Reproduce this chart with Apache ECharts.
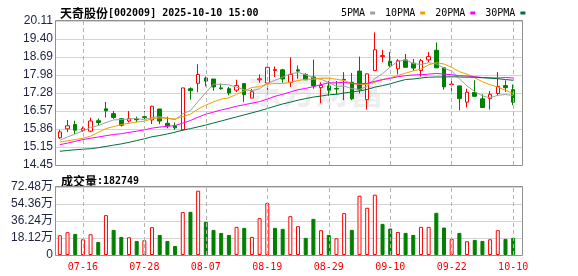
<!DOCTYPE html>
<html><head><meta charset="utf-8">
<script src="https://cdn.jsdelivr.net/npm/echarts@6/dist/echarts.min.js"></script>
<style>html,body{margin:0;padding:0;background:#fff}#c{width:578px;height:276px}</style>
</head><body><div id="c"></div>
<script>
// ---------- DATA ----------
const dates = ['07-11','07-14','07-15','07-16','07-17','07-18','07-21','07-22','07-23','07-24','07-25','07-28','07-29','07-30','07-31',
'08-01','08-04','08-05','08-06','08-07','08-08','08-11','08-12','08-13','08-14','08-15','08-18','08-19','08-20','08-21','08-22','08-25','08-26','08-27','08-28','08-29',
'09-01','09-02','09-03','09-04','09-05','09-08','09-09','09-10','09-11','09-12','09-15','09-16','09-17','09-18','09-19','09-22','09-23','09-24','09-25','09-26','09-29','09-30',
'10-09','10-10'];
const openP  = [15.52,15.87,16.04,15.80,15.78,16.19,16.66,16.47,16.27,16.18,16.26,16.35,16.22,16.65,16.09,15.99,15.83,17.45,17.66,17.87,17.83,17.48,17.45,17.39,17.65,17.08,17.80,17.67,18.16,18.19,17.70,18.19,18.01,17.91,17.49,17.56,17.46,17.81,17.70,18.14,17.02,18.16,18.71,18.53,18.23,18.58,18.45,18.16,18.58,18.96,18.27,17.61,17.56,16.92,17.30,17.05,17.06,17.26,17.57,17.41];
const closeP = [15.75,15.99,15.82,15.88,16.18,16.12,16.58,16.32,16.01,16.27,16.23,16.31,16.76,16.18,15.99,15.91,17.48,17.37,18.01,17.75,17.52,17.45,17.28,17.57,17.22,17.33,17.84,18.29,18.20,17.83,18.01,18.14,17.80,17.56,17.58,17.39,17.44,17.79,17.05,17.41,18.03,18.98,18.75,18.35,18.55,18.29,18.26,18.55,18.71,18.27,17.52,17.63,17.06,17.31,17.15,16.71,17.23,17.54,17.49,16.92];
const lowP   = [15.47,15.74,15.67,15.75,15.74,16.02,16.32,16.26,15.96,16.12,16.13,16.13,16.06,16.06,15.89,15.83,15.80,17.02,17.31,17.54,17.37,17.41,17.19,17.32,16.93,17.08,17.68,17.39,17.91,17.68,17.52,17.84,17.80,17.45,16.87,17.17,17.22,17.00,17.00,17.26,16.63,18.16,18.49,18.29,18.01,18.29,18.16,17.93,18.49,18.27,17.41,17.36,16.60,16.71,17.15,16.71,16.63,17.19,17.32,16.80];
const highP  = [15.83,16.22,16.19,15.96,16.31,16.28,16.93,16.57,16.28,16.57,16.35,16.57,16.78,16.65,16.35,16.12,17.48,17.50,18.41,17.93,17.83,17.65,17.52,17.80,17.67,17.44,18.01,18.42,18.32,18.23,18.68,18.36,18.06,18.59,17.70,17.75,17.75,18.10,18.07,18.71,18.06,19.66,18.98,18.89,18.61,18.81,18.62,18.62,18.89,19.27,18.29,17.88,17.56,17.45,17.78,17.23,17.36,18.10,17.78,17.61];
const ma5  = [15.42,15.55,15.67,15.79,15.92,16.00,16.12,16.22,16.24,16.26,16.28,16.23,16.32,16.35,16.29,16.23,16.46,16.59,16.95,17.30,17.63,17.62,17.60,17.51,17.41,17.37,17.45,17.65,17.78,17.90,18.03,18.09,18.00,17.87,17.82,17.69,17.55,17.55,17.45,17.42,17.54,17.85,18.04,18.30,18.53,18.58,18.44,18.40,18.47,18.42,18.26,18.14,17.84,17.56,17.33,17.17,17.09,17.19,17.22,17.18];
const ma10 = [15.35,15.40,15.45,15.50,15.58,15.73,15.88,15.96,16.04,16.09,16.14,16.17,16.27,16.30,16.28,16.26,16.35,16.45,16.65,16.80,16.93,17.04,17.09,17.23,17.36,17.50,17.53,17.63,17.65,17.65,17.70,17.77,17.82,17.82,17.86,17.86,17.82,17.77,17.66,17.62,17.62,17.70,17.80,17.88,17.97,18.06,18.15,18.22,18.39,18.47,18.42,18.29,18.12,18.02,17.88,17.72,17.61,17.51,17.39,17.26];
const ma20 = [15.25,15.31,15.38,15.45,15.50,15.55,15.60,15.65,15.68,15.73,15.78,15.83,15.90,15.94,15.97,16.00,16.10,16.20,16.33,16.45,16.53,16.61,16.68,16.76,16.82,16.88,16.94,17.04,17.15,17.23,17.32,17.41,17.46,17.53,17.61,17.68,17.68,17.70,17.65,17.64,17.66,17.74,17.81,17.85,17.92,17.96,17.99,18.00,18.02,18.05,18.02,18.00,17.96,17.95,17.92,17.89,17.88,17.87,17.89,17.87];
const ma30 = [14.99,15.02,15.05,15.07,15.09,15.13,15.18,15.23,15.28,15.34,15.41,15.48,15.56,15.61,15.67,15.74,15.82,15.88,15.95,16.02,16.10,16.18,16.26,16.34,16.42,16.50,16.58,16.67,16.76,16.85,16.92,17.00,17.06,17.12,17.16,17.21,17.23,17.28,17.32,17.36,17.42,17.51,17.57,17.64,17.73,17.81,17.83,17.87,17.90,17.91,17.91,17.92,17.91,17.90,17.90,17.88,17.86,17.84,17.81,17.78];
// volume, unit: 万
const volume = [21.07,24.28,22.49,16.78,22.14,13.92,42.49,26.78,19.28,18.92,15.00,15.71,29.63,21.42,15.00,9.64,45.70,46.06,68.55,35.35,26.78,23.56,21.42,29.99,28.92,19.28,39.27,55.34,28.92,27.85,41.41,30.70,18.21,38.56,26.42,21.42,17.85,44.63,26.78,63.19,50.34,64.26,33.20,28.20,24.63,23.56,21.42,29.99,29.99,44.98,29.28,17.14,23.56,14.64,16.07,15.00,16.78,26.42,17.14,18.27];
const priceTicks = ['14.45','15.15','15.86','16.57','17.28','17.98','18.69','19.40','20.11'];
const volTicks = ['0','18.12万','36.24万','54.36万','72.48万'];
const labelDates = ['07-16','07-28','08-07','08-19','08-29','09-10','09-22','10-10'];
const stockName = '天奇股份';
const stockInfo = '[002009] 2025-10-10 15:00';
const volName = '成交量';
const volLast = '182749';
const maNames = ['5PMA','10PMA','20PMA','30PMA'];
const watermark = '东方财富';

// ---------- CHART ----------
const PMIN = 14.45, PMAX = 20.11, PINT = 0.7075;
const VMAX = 72.48, VINT = 18.12;
const RED = '#ff0000', GREEN = '#008000';
const maColors = ['#a0a0a0', '#f0a000', '#ff00ff', '#006f3c'];
const MONO = '"DejaVu Sans Mono", monospace';
const CJK = '"Noto Sans CJK SC", sans-serif';
const SANS = '"Liberation Sans", Arial, "Noto Sans CJK SC", sans-serif';

const chart = echarts.init(document.getElementById('c'), null, {renderer: 'canvas'});
const showIdx = (i, v) => labelDates.indexOf(v) >= 0;

const candleData = dates.map((d, i) => [openP[i], closeP[i], lowP[i], highP[i]]);
const volData = volume.map((v, i) => {
  const up = i === 0 ? closeP[i] >= openP[i] : closeP[i] >= closeP[i - 1];
  return {value: v, itemStyle: up ? {color: '#fff', borderColor: RED, borderWidth: 1} : {color: GREEN, borderColor: GREEN, borderWidth: 1}};
});

// dashed vertical guide lines at the labelled dates (hosted on empty helper series)
const makeGuides = (c) => ({
  silent: true, symbol: ['none', 'none'], label: {show: false}, animation: false,
  lineStyle: {color: c, type: [4, 3], width: 1},
  data: labelDates.map(d => ({xAxis: d}))
});
const emptyData = () => dates.map(() => null);

const option = {
  animation: false,
  backgroundColor: '#fff',
  title: [
    {left: 55, top: 2, text: '{a|' + stockName + '}{b|' + stockInfo + '}',
     textStyle: {rich: {a: {fontFamily: CJK, fontSize: 12, color: '#000'}, b: {fontFamily: MONO, fontSize: 10, color: '#000'}}}},
    {left: 56, top: 170, text: '{a|' + volName + '}{b|:' + volLast + '}',
     textStyle: {rich: {a: {fontFamily: CJK, fontSize: 12, color: '#000'}, b: {fontFamily: MONO, fontSize: 10, color: '#000'}}}}
  ],
  legend: {
    left: 336, top: 3, data: maNames, align: 'right', icon: 'rect', itemWidth: 5, itemHeight: 3, itemGap: 10,
    textStyle: {fontFamily: MONO, fontSize: 10, color: '#000'}, selectedMode: false
  },
  graphic: {elements: [
    {type: 'text', left: 248, top: 74, z: -10, silent: true,
     style: {text: watermark, font: 'bold 34px "Noto Sans CJK SC"', fill: '#eeeeee'}},
    {type: 'rect', shape: {x: 55.5, y: 20.5, width: 467, height: 145}, style: {fill: 'none', stroke: '#909090', lineWidth: 1}, z: 100, silent: true},
    {type: 'rect', shape: {x: 55.5, y: 186.5, width: 467, height: 69}, style: {fill: 'none', stroke: '#909090', lineWidth: 1}, z: 100, silent: true}
  ]},
  grid: [
    {left: 56, top: 21, width: 461, height: 144},
    {left: 56, top: 187, width: 461, height: 68},
    {left: 56, top: 21, width: 466, height: 144},
    {left: 56, top: 187, width: 466, height: 68}
  ],
  xAxis: [
    {type: 'category', gridIndex: 0, data: dates, boundaryGap: true, axisLine: {show: false}, axisTick: {show: false}, axisLabel: {show: false}, splitLine: {show: false}},
    {type: 'category', gridIndex: 1, data: dates, boundaryGap: true, axisLine: {show: false}, axisTick: {show: false},
     axisLabel: {show: true, interval: showIdx, color: RED, fontFamily: MONO, fontSize: 10, margin: 7}, splitLine: {show: false}},
    {type: 'value', gridIndex: 2, show: false},
    {type: 'value', gridIndex: 3, show: false}
  ],
  yAxis: [
    {type: 'value', gridIndex: 0, min: PMIN, max: PMAX, show: false, splitLine: {show: false}},
    {type: 'value', gridIndex: 1, min: 0, max: VMAX, show: false, splitLine: {show: false}},
    {type: 'value', gridIndex: 2, min: PMIN, max: PMAX, interval: PINT, axisLine: {show: false}, axisTick: {show: false},
     axisLabel: {color: '#1c2340', fontFamily: SANS, fontSize: 12, margin: 3,
       formatter: v => priceTicks[Math.round((v - PMIN) / PINT)]},
     splitLine: {lineStyle: {color: '#d4d4d4', width: 1}}},
    {type: 'value', gridIndex: 3, min: 0, max: VMAX, interval: VINT, axisLine: {show: false}, axisTick: {show: false},
     axisLabel: {color: '#1c2340', fontFamily: SANS, fontSize: 12, margin: 3,
       formatter: v => volTicks[Math.round(v / VINT)]},
     splitLine: {lineStyle: {color: '#d4d4d4', width: 1}}}
  ],
  series: [
    {type: 'line', name: 'guide0', xAxisIndex: 0, yAxisIndex: 0, data: emptyData(), symbol: 'none', z: 1, markLine: makeGuides('#b4b4b4')},
    {type: 'line', name: 'guide1', xAxisIndex: 1, yAxisIndex: 1, data: emptyData(), symbol: 'none', z: 1, markLine: makeGuides('#b4b4b4')},
    {type: 'candlestick', name: 'K', xAxisIndex: 0, yAxisIndex: 0, data: candleData, barWidth: 4, z: 2,
     itemStyle: {color: '#fff', color0: GREEN, borderColor: RED, borderColor0: GREEN, borderWidth: 1}},
    ...[ma5, ma10, ma20, ma30].map((arr, k) => ({
      type: 'line', name: maNames[k], xAxisIndex: 0, yAxisIndex: 0, data: arr, symbol: 'none', smooth: false,
      lineStyle: {color: maColors[k], width: 1}, itemStyle: {color: maColors[k]}, z: 3
    })),
    {type: 'bar', name: 'VOL', xAxisIndex: 1, yAxisIndex: 1, data: volData, barWidth: 4, z: 2}
  ]
};
chart.setOption(option);
</script></body></html>
